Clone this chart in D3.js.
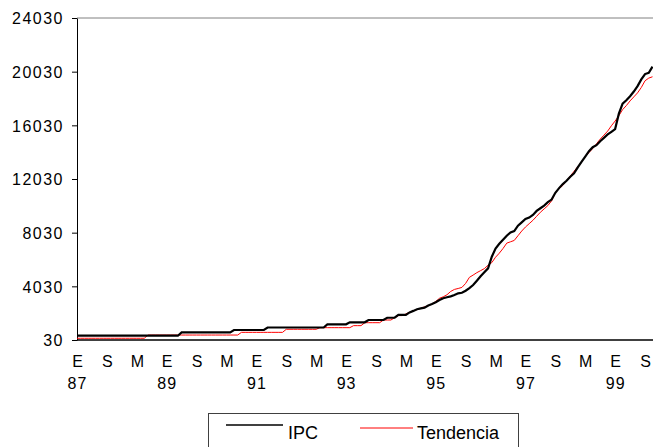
<!DOCTYPE html>
<html>
<head>
<meta charset="utf-8">
<script src="https://cdn.jsdelivr.net/npm/d3@7"></script>
<style>
  body { margin: 0; background: #fff; }
  svg { display: block; font-family: "Liberation Sans", Arial, sans-serif; }
</style>
</head>
<body>
<svg id="vis" width="653" height="447"></svg>
<script>
// monthly values, Jan 1987 (index 0) to Nov 1999 (index 154)
const ipc = [
  350, 350, 350, 350, 350, 350, 350, 350, 350, 350, 350, 350, 350, 350,
  350, 350, 350, 350, 350, 350, 350, 350, 350, 350, 350, 350, 350, 350,
  600, 600, 600, 600, 600, 600, 600, 600, 600, 600, 600, 600, 600, 600,
  775, 775, 775, 775, 775, 775, 775, 775, 775,
  960, 960, 960, 960, 960, 960, 960, 960, 960, 960, 960, 960, 960, 960, 960, 960,
  1200, 1200, 1200, 1200, 1200, 1200,
  1350, 1350, 1350, 1350, 1350,
  1520, 1520, 1520, 1520, 1520,
  1690, 1690, 1690,
  1900, 1900, 1900,
  2090, 2200, 2320, 2390, 2440, 2600, 2710, 2850, 3010, 3140, 3220, 3280, 3380, 3510, 3550,
  3700, 3900, 4130, 4450, 4780, 5080,
  5370, 6240, 6850, 7200, 7500, 7800, 8050, 8150, 8550, 8800, 9050, 9150, 9350, 9650,
  9850, 10050, 10300, 10500,
  11000, 11350, 11650, 11900, 12200, 12450, 12900, 13300, 13700, 14100, 14400, 14550,
  14850, 15100, 15350, 15550, 15750, 16900, 17650, 17900, 18200, 18550, 18950, 19450,
  19850, 19950, 20400
];

const tendencia = [
  160, 160, 160, 160, 160, 160, 160, 160, 160, 160, 160, 160, 160, 160, 160, 160, 160, 160, 160,
  400, 400, 400, 400, 400, 400, 400, 400, 400, 400, 400, 400, 400, 400, 400, 400, 400, 400,
  400, 400, 400, 400, 400, 400, 400,
  600, 600, 600, 600, 600, 600, 600, 600, 600, 600, 600, 600,
  830, 830, 830, 830, 830, 830, 830, 830, 830,
  950, 950, 950, 950, 950, 950, 950, 950, 950,
  1100, 1100, 1100,
  1320, 1320, 1320, 1320, 1320,
  1520, 1520, 1520,
  1690,
  1850, 1850,
  1970, 2100, 2210, 2300, 2390, 2500, 2590, 2720, 2900, 3140,
  3250, 3400, 3650, 3800, 3870, 3950, 4250, 4700, 4870, 5050,
  5200, 5350, 5600, 5800, 6200, 6500, 6850, 7250, 7350, 7450, 7800, 8150, 8450, 8700,
  8950, 9250, 9550, 9800, 10050, 10400, 11000, 11300, 11550, 11900, 12250, 12600,
  12950, 13300, 13700, 14000, 14300, 14650, 15000, 15300, 15600, 16000, 16350, 16750,
  17200, 17500, 17850, 18150, 18450, 18850, 19350, 19550, 19650
];

const yTicks = [30, 4030, 8030, 12030, 16030, 20030, 24030];
const monthTicks = [0, 8, 16, 24, 32, 40, 48, 56, 64, 72, 80, 88, 96, 104, 112, 120, 128, 136, 144, 152];
const monthLabels = ["E", "S", "M", "E", "S", "M", "E", "S", "M", "E", "S", "M", "E", "S", "M", "E", "S", "M", "E", "S"];
const yearTicks = [0, 24, 48, 72, 96, 120, 144];
const yearLabels = ["87", "89", "91", "93", "95", "97", "99"];

const svg = d3.select("#vis");

const x = d3.scaleLinear().domain([0, 154]).range([77, 652.5]);
const y = d3.scaleLinear().domain([30, 24030]).range([340, 18]);

// top border
svg.append("line")
    .attr("x1", 77).attr("x2", 653)
    .attr("y1", y(24030)).attr("y2", y(24030))
    .attr("stroke", "#808080").attr("stroke-width", 1);

// y axis
const yAxis = svg.append("g")
    .attr("transform", "translate(77,0)")
    .call(d3.axisLeft(y).tickValues(yTicks).tickSize(5).tickSizeOuter(0).tickFormat(d3.format("d")));
yAxis.select(".domain").attr("stroke", "#000");
yAxis.selectAll(".tick line").attr("stroke", "#000");
yAxis.selectAll(".tick text")
    .attr("x", -13)
    .attr("dy", "0.36em")
    .attr("font-size", 16)
    .attr("letter-spacing", 1.5)
    .attr("fill", "#000")
    .attr("font-family", "Liberation Sans, Arial, sans-serif");

// x axis line
svg.append("line")
    .attr("x1", 77).attr("x2", 653)
    .attr("y1", 340).attr("y2", 340)
    .attr("stroke", "#000").attr("stroke-width", 1.5);

// month letters
const xAxis = svg.append("g")
    .attr("transform", "translate(0,340)")
    .call(d3.axisBottom(x).tickValues(monthTicks).tickSize(0)
        .tickFormat((d, i) => monthLabels[i]));
xAxis.select(".domain").remove();
xAxis.selectAll(".tick text")
    .attr("y", 0)
    .attr("dy", 26.5)
    .attr("font-size", 16)
    .attr("fill", "#000")
    .attr("font-family", "Liberation Sans, Arial, sans-serif");

// years
const yearAxis = svg.append("g")
    .attr("transform", "translate(0,340)")
    .call(d3.axisBottom(x).tickValues(yearTicks).tickSize(0)
        .tickFormat((d, i) => yearLabels[i]));
yearAxis.select(".domain").remove();
yearAxis.selectAll(".tick text")
    .attr("y", 0)
    .attr("dy", 48.5)
    .attr("letter-spacing", 1)
    .attr("font-size", 16)
    .attr("fill", "#000")
    .attr("font-family", "Liberation Sans, Arial, sans-serif");

const line = d3.line()
    .x((d, i) => x(i))
    .y(d => y(d));

svg.append("path")
    .datum(tendencia)
    .attr("fill", "none")
    .attr("stroke", "#ff0000")
    .attr("stroke-width", 1)
    .attr("d", line);

svg.append("path")
    .datum(ipc)
    .attr("fill", "none")
    .attr("stroke", "#000")
    .attr("stroke-width", 2.2)
    .attr("d", line);

// legend
const legend = svg.append("g");
legend.append("rect")
    .attr("x", 208.5).attr("y", 413.5)
    .attr("width", 310).attr("height", 50)
    .attr("fill", "#fff")
    .attr("stroke", "#404040");
legend.append("line")
    .attr("x1", 226).attr("x2", 283).attr("y1", 425).attr("y2", 425)
    .attr("stroke", "#000").attr("stroke-width", 1.5);
legend.append("text")
    .attr("x", 288).attr("y", 438.5)
    .attr("font-size", 18)
    .text("IPC");
legend.append("line")
    .attr("x1", 360).attr("x2", 413).attr("y1", 428).attr("y2", 428)
    .attr("stroke", "#ff0000").attr("stroke-width", 1);
legend.append("text")
    .attr("x", 417).attr("y", 438.5)
    .attr("font-size", 18)
    .text("Tendencia");
</script>
</body>
</html>
